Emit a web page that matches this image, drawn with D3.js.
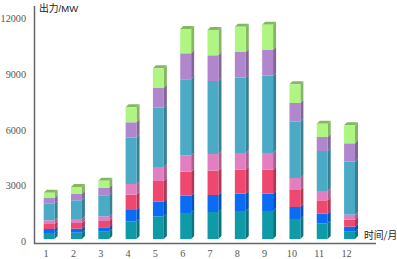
<!DOCTYPE html>
<html>
<head>
<meta charset="utf-8">
<script src="https://cdn.jsdelivr.net/npm/d3@7/dist/d3.min.js"></script>
<style>
  html, body { margin: 0; padding: 0; background: #fff; overflow: hidden; }
  svg { display: block; }
  .tick text { font-family: "Liberation Serif", serif; font-size: 10.2px; fill: #555; }
  .unit { font-family: "Noto Sans CJK SC", sans-serif; fill: #222; }
  .narrow { font-family: "Liberation Sans Narrow", "Liberation Sans", sans-serif; }
</style>
</head>
<body>
<svg width="397" height="259"></svg>
<script>
const months = ['1', '2', '3', '4', '5', '6', '7', '8', '9', '10', '11', '12'];
const yTicks = [0, 3000, 6000, 9000, 12000];

// stacked from the bottom up
const s1 = [322, 340, 394, 949, 1217, 1396, 1450, 1504, 1504, 1074, 841, 394];
const s2 = [215, 215, 232, 608, 788, 931, 913, 930, 930, 644, 519, 268];
const s3 = [268, 304, 341, 824, 1110, 1289, 1307, 1289, 1289, 913, 716, 376];
const s4 = [197, 215, 250, 573, 751, 877, 895, 895, 895, 645, 502, 269];
const s5 = [913, 1002, 1128, 2488, 3187, 4081, 3920, 4046, 4153, 3025, 2148, 2846];
const s6 = [285, 358, 412, 823, 1074, 1396, 1378, 1378, 1396, 1002, 751, 984];
const s7 = [288, 358, 375, 805, 1038, 1307, 1360, 1360, 1343, 1003, 716, 967];

const seriesValues = [s1, s2, s3, s4, s5, s6, s7];
const colors = ['#0e9aa7', '#0a6cf5', '#ef4870', '#e37fc0', '#4babc6', '#b086cc', '#aef581'];

const depth = 3;

let svg = d3.select('svg');

let x = d3.scaleBand().domain(months).range([43.7, 355]).paddingInner(0.6).paddingOuter(0),
    y = d3.scaleLinear().domain([0, 12000]).range([239, 15.5]);

const keys = seriesValues.map((d, i) => i);
const table = months.map((m, j) => {
  let row = {month: m};
  keys.forEach((k) => { row[k] = seriesValues[k][j]; });
  return row;
});
const stacked = d3.stack().keys(keys)(table);

const sidePath = function(d) {
  const p = d3.path(), xr = x(d.data.month) + x.bandwidth();
  p.moveTo(xr, y(d[0]));
  p.lineTo(xr + depth, y(d[0]) - depth);
  p.lineTo(xr + depth, y(d[1]) - depth);
  p.lineTo(xr, y(d[1]));
  p.closePath();
  return p.toString();
};

const topPath = function(d) {
  const p = d3.path(), xl = x(d.data.month), yt = y(d[1]);
  p.moveTo(xl, yt);
  p.lineTo(xl + depth, yt - depth);
  p.lineTo(xl + x.bandwidth() + depth, yt - depth);
  p.lineTo(xl + x.bandwidth(), yt);
  p.closePath();
  return p.toString();
};

let layers = svg.append('g').selectAll('g')
  .data(stacked)
  .enter().append('g');

layers.selectAll('.side')
  .data((d) => d.map((v) => Object.assign(v, {key: d.key})))
  .enter().append('path')
    .attr('class', 'side')
    .attr('d', sidePath)
    .attr('fill', (d) => d3.color(colors[d.key]).darker(0.8));

layers.filter((d) => d.key === keys[keys.length - 1])
  .selectAll('.top')
  .data((d) => d)
  .enter().append('path')
    .attr('class', 'top')
    .attr('d', topPath)
    .attr('fill', (d) => d3.color(colors[d.key]).darker(0.8));

layers.selectAll('.front')
  .data((d) => d)
  .enter().append('rect')
    .attr('class', 'front')
    .attr('x', (d) => x(d.data.month))
    .attr('y', (d) => y(d[1]))
    .attr('width', x.bandwidth())
    .attr('height', (d) => y(d[0]) - y(d[1]))
    .attr('fill', (d) => colors[d.key]);

// tick labels only, the axis lines are longer than the scales
let gy = svg.append('g')
    .attr('transform', 'translate(26, 2.5)')
    .call(d3.axisLeft(y).tickValues(yTicks).tickFormat(d3.format('d')).tickSize(0).tickPadding(0));
gy.select('.domain').remove();

let gx = svg.append('g')
    .attr('transform', 'translate(-3, 250)')
    .call(d3.axisBottom(x).tickSize(0).tickPadding(0));
gx.select('.domain').remove();

svg.append('line').attr('x1', 34.5).attr('x2', 34.5).attr('y1', 6).attr('y2', 244)
    .attr('stroke', '#666').attr('stroke-width', 1.5);
svg.append('line').attr('x1', 34).attr('x2', 376).attr('y1', 243.5).attr('y2', 243.5)
    .attr('stroke', '#666').attr('stroke-width', 1.5);

let title = svg.append('text').attr('class', 'unit').attr('x', 39).attr('y', 11.5);
title.append('tspan').attr('font-size', 9.8).text('出力');
title.append('tspan').attr('class', 'narrow').attr('font-size', 9.5).text('/MW');

svg.append('text').attr('class', 'unit').attr('x', 364).attr('y', 239).attr('font-size', 9.8).text('时间/月');
</script>
</body>
</html>
